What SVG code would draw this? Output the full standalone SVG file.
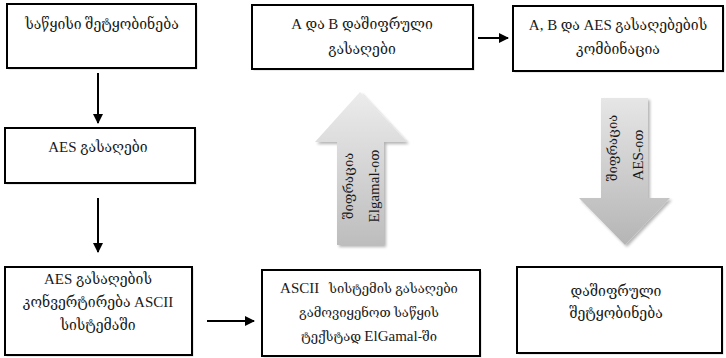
<svg xmlns="http://www.w3.org/2000/svg" width="726" height="358" viewBox="0 0 726 358">
<style>
.box{fill:#fff;stroke:#000;stroke-width:2}
.sh{fill:#d4d4d4}
.t{font-family:"Liberation Serif","DejaVu Sans ExtraLight","DejaVu Serif",serif;font-weight:200;font-size:14px;fill:#1a1a1a;text-anchor:middle}
.s{font-size:13px}
.L{font-size:15px}
.ln{stroke:#000;stroke-width:2;fill:none;marker-end:url(#ah)}
</style>
<defs>
<marker id="ah" viewBox="0 0 10 10" refX="9" refY="5" markerWidth="5" markerHeight="5" orient="auto" markerUnits="strokeWidth">
<path d="M0,0 L10,5 L0,10 z" fill="#000"/>
</marker>
<linearGradient id="gu" x1="0" y1="0" x2="0" y2="1">
<stop offset="0" stop-color="#ececec"/>
<stop offset="1" stop-color="#bdbdbd"/>
</linearGradient>
<linearGradient id="gd" x1="0" y1="0" x2="0" y2="1">
<stop offset="0" stop-color="#e6e6e6"/>
<stop offset="1" stop-color="#b5b5b5"/>
</linearGradient>
<filter id="fs" x="-20%" y="-20%" width="140%" height="140%">
<feGaussianBlur in="SourceAlpha" stdDeviation="1.5"/>
<feOffset dx="2" dy="2" result="b"/>
<feComponentTransfer><feFuncA type="linear" slope="0.3"/></feComponentTransfer>
<feMerge><feMergeNode/><feMergeNode in="SourceGraphic"/></feMerge>
</filter>
</defs>

<g id="n1">
<rect class="sh" x="8.5" y="5.5" width="189" height="64"/>
<rect class="box" x="7" y="4" width="189" height="64"/>
<text class="t" x="102" y="29">საწყისი შეტყობინება</text>
</g>
<g id="n2">
<rect class="sh" x="253.5" y="6.5" width="221" height="64"/>
<rect class="box" x="252" y="5" width="221" height="64"/>
<text class="t" x="362" y="29"><tspan class="L">A</tspan> და <tspan class="L">B</tspan> დაშიფრული</text>
<text class="t" x="362" y="54">გასაღები</text>
</g>
<g id="n3">
<rect class="sh" x="514.5" y="7.5" width="210" height="65"/>
<rect class="box" x="513" y="6" width="210" height="65"/>
<text class="t" x="618" y="30"><tspan class="L">A, B</tspan> და <tspan class="L">AES</tspan> გასაღებების</text>
<text class="t" x="618" y="54">კომბინაცია</text>
</g>
<g id="n4">
<rect class="sh" x="6.5" y="129.5" width="190" height="55"/>
<rect class="box" x="5" y="128" width="190" height="55"/>
<text class="t" x="98" y="152"><tspan class="L">AES</tspan> გასაღები</text>
</g>
<g id="n5">
<rect class="sh" x="6.5" y="268.5" width="187" height="88"/>
<rect class="box" x="5" y="267" width="187" height="88"/>
<text class="t" x="98" y="284"><tspan class="L">AES</tspan> გასაღების</text>
<text class="t" x="98" y="307">კონვერტირება <tspan class="L">ASCII</tspan></text>
<text class="t" x="98" y="330">სისტემაში</text>
</g>
<g id="n6">
<rect class="sh" x="263.5" y="271.5" width="218" height="86"/>
<rect class="box" x="262" y="270" width="218" height="86"/>
<text class="t s" x="369" y="293" xml:space="preserve"><tspan class="L">ASCII</tspan>   სისტემის გასაღები</text>
<text class="t s" x="369" y="317">გამოვიყენოთ საწყის</text>
<text class="t s" x="369" y="341">ტექსტად <tspan class="L">ElGamal</tspan>-ში</text>
</g>
<g id="n7">
<rect class="sh" x="518.5" y="268.5" width="205" height="86"/>
<rect class="box" x="517" y="267" width="205" height="86"/>
<text class="t" x="616" y="296">დაშიფრული</text>
<text class="t" x="616" y="318">შეტყობინება</text>
</g>

<g id="bigArrowUp">
<path d="M360,92 L407,142 L384,142 L384,245 L337,245 L337,142 L315,142 Z" fill="url(#gu)" filter="url(#fs)"/>
<text class="t s" transform="translate(353,186) rotate(-90)">შიფრაცია</text>
<text class="t s" transform="translate(379,186) rotate(-90)"><tspan class="L">Elgamal</tspan>-ით</text>
</g>
<g id="bigArrowDown">
<path d="M601,98 L648,98 L648,198 L670,198 L625,245 L579,198 L601,198 Z" fill="url(#gd)" filter="url(#fs)"/>
<text class="t s" transform="translate(617,148) rotate(-90)">შიფრაცია</text>
<text class="t s" transform="translate(643,155) rotate(-90)"><tspan class="L">AES</tspan>-ით</text>
</g>

<g id="connectors">
<line class="ln" x1="98" y1="73" x2="98" y2="123"/>
<line class="ln" x1="98" y1="198" x2="98" y2="252"/>
<line class="ln" x1="207" y1="321" x2="254" y2="321"/>
<line class="ln" x1="478" y1="38" x2="508" y2="38"/>
</g>
</svg>
